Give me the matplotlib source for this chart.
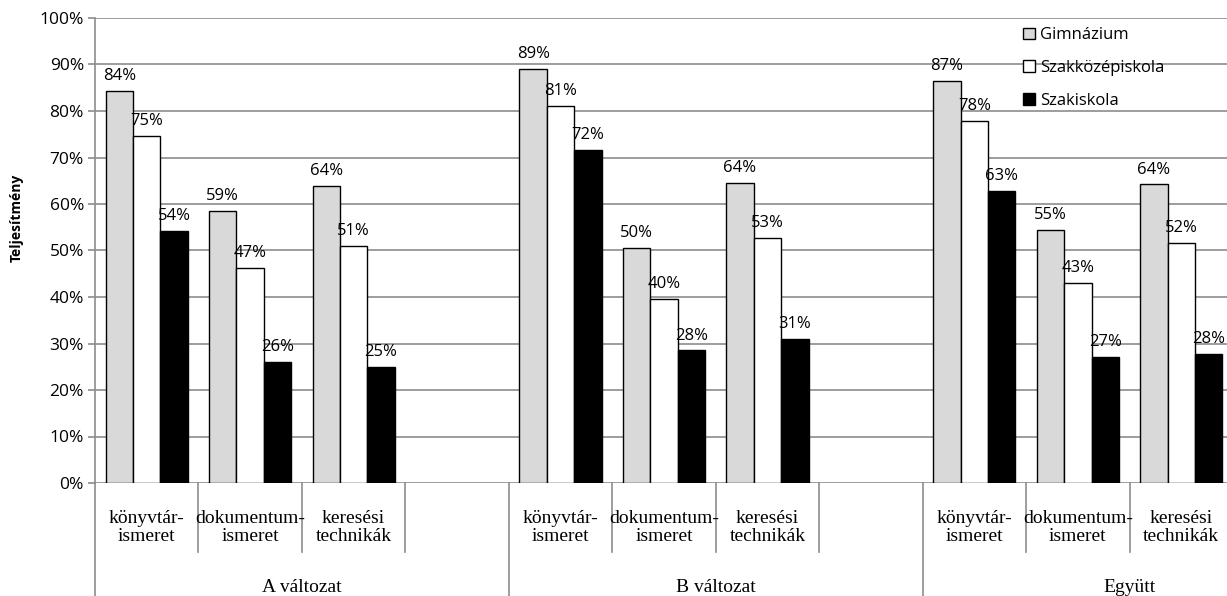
import numpy as np
import matplotlib
matplotlib.use("Agg")
import matplotlib.pyplot as plt
from matplotlib.transforms import blended_transform_factory

groups = ["A változat", "B változat", "Együtt"]
categories = ["könyvtár-\nismeret", "dokumentum-\nismeret", "keresési\ntechnikák"]
series = ["Gimnázium", "Szakközépiskola", "Szakiskola"]

# values per group: [könyvtár, dokumentum, keresési]
gimn = [[84.3, 58.5, 63.8], [89.0, 50.5, 64.5], [86.5, 54.5, 64.2]]
szkk = [[74.7, 46.3, 51.0], [81.0, 39.6, 52.6], [77.8, 43.0, 51.7]]
szak = [[54.2, 26.0, 25.0], [71.7, 28.5, 31.0], [62.9, 27.2, 27.8]]
labels_gimn = [[84, 59, 64], [89, 50, 64], [87, 55, 64]]
labels_szkk = [[75, 47, 51], [81, 40, 53], [78, 43, 52]]
labels_szak = [[54, 26, 25], [72, 28, 31], [63, 27, 28]]

colors = ["#d9d9d9", "white", "black"]
sans = ["Open Sans", "DejaVu Sans"]
serif = "Liberation Serif"
grid_c = "#8c8c8c"

fig = plt.figure(figsize=(12.27, 5.96), dpi=100)
ax = fig.add_axes([95 / 1227, 113 / 596, 1138 / 1227, 465 / 596])

w = 0.265
slots = [0, 1, 2, 4, 5, 6, 8, 9, 10]
for si, (vals, labs) in enumerate(zip([gimn, szkk, szak], [labels_gimn, labels_szkk, labels_szak])):
    flat = np.array(vals).ravel()
    flat_l = np.array(labs).ravel()
    xs = np.array(slots) + 0.5 + (si - 1) * w
    ax.bar(xs, flat, width=w, color=colors[si], edgecolor="black", linewidth=1.0,
           label=series[si], zorder=3)
    for x, v, l in zip(xs, flat, flat_l):
        ax.annotate(f"{l}%", (x, v), xytext=(0, 5), textcoords="offset points",
                    ha="center", va="bottom", fontsize=12, family=sans, zorder=4)

ax.set_xlim(0, 11)
ax.set_ylim(0, 100)
ax.set_yticks(np.arange(0, 101, 10))
ax.set_yticklabels([f"{t}%" for t in range(0, 101, 10)], fontsize=12.5, family=sans)
ax.yaxis.grid(True, color=grid_c, linewidth=1.2, zorder=0)
ax.tick_params(axis="y", length=5, color=grid_c, width=1.2, pad=3)
for s in ["top", "right", "bottom"]:
    ax.spines[s].set_visible(False)
ax.spines["left"].set_color(grid_c)
ax.spines["left"].set_linewidth(1.2)
fig.text(17 / 1227, 1 - 218 / 596, "Teljesítmény", rotation=90, ha="center", va="center",
         fontsize=10, fontweight="bold", family=sans)

# category axis drawn by hand
ax.set_xticks([])
tr = blended_transform_factory(ax.transData, ax.transAxes)
for b in [1, 2, 3, 5, 6, 7, 9, 10]:
    ax.plot([b, b], [0, -69 / 465], color=grid_c, lw=1.2, transform=tr, clip_on=False)
for b in [0, 4, 8]:
    ax.plot([b, b], [0, -115 / 465], color=grid_c, lw=1.2, transform=tr, clip_on=False)
for gi, g in enumerate(groups):
    for ci, c in enumerate(categories):
        ax.text(gi * 4 + ci + 0.5, -27 / 465, c, transform=tr, ha="center", va="top",
                fontsize=14, family=serif, linespacing=1.1)
    ax.text(gi * 4 + 2, -104 / 465, g, transform=tr, ha="center", va="center",
            fontsize=14, family=serif)

leg = ax.legend(loc="upper left", bbox_to_anchor=(1015 / 1227, 1 - 19 / 596),
                bbox_transform=fig.transFigure, frameon=False,
                prop={"family": sans, "size": 12}, handlelength=0.7, handleheight=0.7,
                handletextpad=0.3, labelspacing=1.0, borderpad=0)

fig.savefig("out.png", dpi=100)
